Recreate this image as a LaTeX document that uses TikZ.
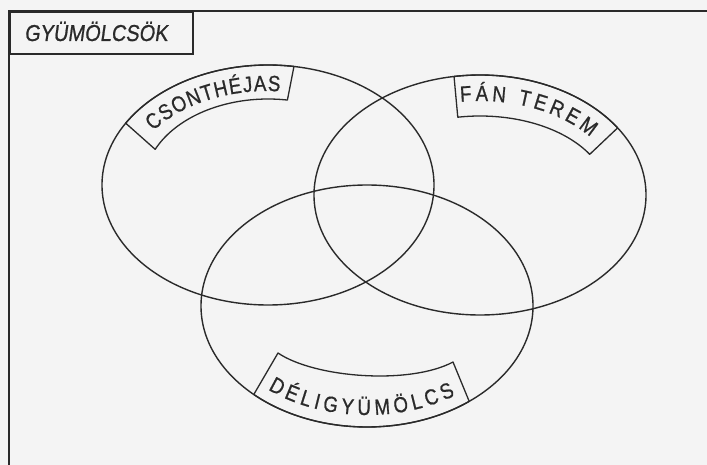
\documentclass[tikz,border=0pt]{standalone}
\usepackage{fontspec}
\setmainfont{Liberation Sans}
\newfontfamily\handfont[FakeSlant=0.14, FakeStretch=0.87, FakeBold=0.8]{Liberation Sans}
\newfontfamily\labelfont[FakeStretch=0.85, FakeBold=0.8]{Liberation Sans}
\usetikzlibrary{decorations.text}
\definecolor{ink}{HTML}{2A2A2A}
\definecolor{paper}{HTML}{F4F4F4}
\tikzset{
  frameline/.style={draw=ink, line width=1.8pt},
  setline/.style={draw=ink, line width=1.4pt},
  labelbox/.style={draw=ink, line width=1.3pt, line join=round},
  titlebox/.style={draw=ink, line width=1.6pt, minimum width=183pt, minimum height=42pt, inner sep=0pt},
  arctext/.style={decorate, decoration={text along path, text align={fit to path}, text color=ink, text={#1}}}
}
\begin{document}
\begin{tikzpicture}[x=1pt,y=-1pt]
\fill[paper] (0,0) rectangle (707,465);
\useasboundingbox (0,0) rectangle (707,465);
% frame
\coordinate (tr) at (707,11);
\coordinate (tl) at (9,11);
\coordinate (bl) at (9,465);
\draw[frameline] (tr) -- (tl) -- (bl);
\node[titlebox, anchor=north west] (title) at (9,11) {};
\node[font=\handfont\fontsize{23}{23}\selectfont, text=ink, anchor=base] (titletext) at (96,41) {GYÜMÖLCSÖK};
% sets
\coordinate (cA) at (268,185);
\coordinate (cB) at (480,195);
\coordinate (cC) at (367,306);
\draw[setline] (cA) ellipse [x radius=166pt, y radius=120pt];
\draw[setline] (cB) ellipse [x radius=166pt, y radius=120pt];
\draw[setline] (cC) ellipse [x radius=166pt, y radius=121pt];
% label boxes
\draw[labelbox] plot[domain=211:279, samples=40, smooth] ({268+166*cos(\x)},{185+120*sin(\x)})
  -- plot[domain=0:74.5, samples=40, smooth] ({268+124*cos(279-\x)},{185+86*sin(279-\x)}) -- cycle;
\draw[labelbox] plot[domain=261:326, samples=40, smooth] ({480+166*cos(\x)},{195+120*sin(\x)})
  -- plot[domain=0:69, samples=40, smooth] ({480+128*cos(329-\x)},{195+79*sin(329-\x)}) -- cycle;
\coordinate (dl) at (278,353);
\coordinate (dr) at (453,362);
\draw[labelbox] plot[domain=0:81, samples=40, smooth] ({367+166*cos(133-\x)},{306+121*sin(133-\x)})
  -- (dr) .. controls (410,385) and (315,378) .. (dl) -- cycle;
% label texts
\coordinate (sA) at (153.3,131.1);
\coordinate (sB) at (460.5,101.9);
\coordinate (sC) at (268.0,389.5);
\path[arctext={|\labelfont\fontsize{22}{22}\selectfont|CSONTHÉJAS}]
  (sA) arc[start angle=145, end angle=85, x radius=140pt, y radius=94pt];
\path[arctext={|\labelfont\fontsize{22}{22}\selectfont|FÁN TEREM}]
  (sB) arc[start angle=98, end angle=38, x radius=140pt, y radius=94pt];
\path[arctext={|\labelfont\fontsize{22}{22}\selectfont|DÉLIGYÜMÖLCS}]
  (sC) arc[start angle=230, end angle=305, x radius=154pt, y radius=109pt];
\end{tikzpicture}
\end{document}
